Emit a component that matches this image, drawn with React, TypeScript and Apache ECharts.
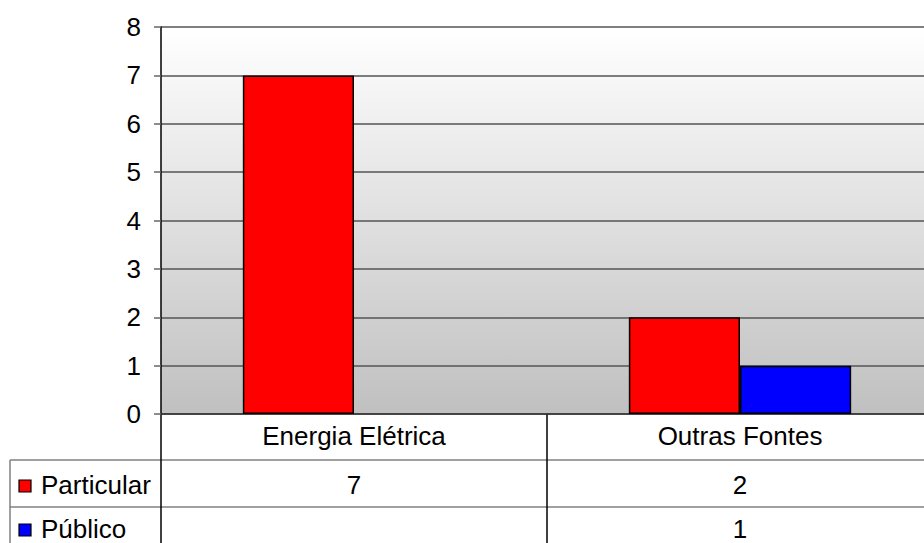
import React, { useEffect, useRef } from "react";
import * as echarts from "echarts";

const categories = ["Energia Elétrica", "Outras Fontes"];
const seriesNames = ["Particular", "Público"];
const seriesColors = ["#ff0000", "#0000ff"];
const particular: (number | null)[] = [7, 2];
const publico: (number | null)[] = [null, 1];
const yTicks = [0, 1, 2, 3, 4, 5, 6, 7, 8];

const FONT = "'Liberation Sans', Arial, sans-serif";
const FS = 26;

export default function App() {
  const ref = useRef<HTMLDivElement>(null);
  useEffect(() => {
    if (!ref.current) return;
    const chart = echarts.init(ref.current, null, { renderer: "svg" });
    const gridLeft = 161;
    const gridTop = 27;
    const gridBottom = 129;
    const W = 933;
    const H = 543;
    const axisY = H - gridBottom;
    chart.setOption({
      animation: false,
      textStyle: { fontFamily: FONT },
      grid: {
        left: gridLeft,
        right: 0,
        top: gridTop,
        bottom: gridBottom,
        show: true,
        borderWidth: 0,
        backgroundColor: new echarts.graphic.LinearGradient(0, 0, 0, 1, [
          { offset: 0, color: "#ffffff" },
          { offset: 1, color: "#c0c0c0" },
        ]),
      },
      xAxis: {
        type: "category",
        data: categories,
        axisLine: { show: true, lineStyle: { color: "#333333", width: 1.5 } },
        axisTick: { show: false },
        axisLabel: { color: "#000", fontSize: FS, fontFamily: FONT, margin: 9 },
        splitLine: { show: false },
      },
      yAxis: {
        type: "value",
        min: yTicks[0],
        max: yTicks[yTicks.length - 1],
        interval: 1,
        axisLine: { show: true, lineStyle: { color: "#000", width: 1.5 } },
        axisTick: { show: true, inside: false, length: 7, lineStyle: { color: "#666666", width: 1.5 } },
        axisLabel: { color: "#000", fontSize: FS, fontFamily: FONT, margin: 20 },
        splitLine: { show: true, lineStyle: { color: "#555555", width: 1.5 } },
      },
      series: [
        {
          name: seriesNames[0],
          type: "bar",
          data: particular,
          barWidth: "28.8%",
          barGap: "0%",
          itemStyle: { color: seriesColors[0], borderColor: "#000", borderWidth: 1.5 },
        },
        {
          name: seriesNames[1],
          type: "bar",
          data: publico,
          barWidth: "28.8%",
          barGap: "0%",
          itemStyle: { color: seriesColors[1], borderColor: "#000", borderWidth: 1.5 },
        },
      ],
    });

    const cx = categories.map((c) => chart.convertToPixel({ xAxisIndex: 0 }, c) as number);
    const divX = (cx[0] + cx[1]) / 2;
    const row1 = 460;
    const row2 = 507;
    const rowCenters = [485, 529];
    const elems: any[] = [];
    [row1, row2].forEach((y) =>
      elems.push({
        type: "line",
        shape: { x1: 10, y1: y, x2: W, y2: y },
        style: { stroke: "#808080", lineWidth: 1.5 },
      })
    );
    elems.push({ type: "line", shape: { x1: 10, y1: row1, x2: 10, y2: H }, style: { stroke: "#808080", lineWidth: 1.5 } });
    elems.push({ type: "line", shape: { x1: gridLeft, y1: axisY, x2: gridLeft, y2: H }, style: { stroke: "#000", lineWidth: 1.5 } });
    elems.push({ type: "line", shape: { x1: divX, y1: axisY, x2: divX, y2: H }, style: { stroke: "#000", lineWidth: 1.5 } });
    const rows = [particular, publico];
    rows.forEach((vals, r) => {
      const yc = rowCenters[r];
      elems.push({
        type: "rect",
        shape: { x: 19, y: yc - 5, width: 12, height: 12 },
        style: { fill: seriesColors[r], stroke: "#000", lineWidth: 1.2 },
      });
      elems.push({
        type: "text",
        x: 41,
        y: yc,
        style: { text: seriesNames[r], font: `${FS}px ${FONT}`, fill: "#000", textAlign: "left", textVerticalAlign: "middle" },
      });
      vals.forEach((v, i) => {
        if (v === null || v === undefined) return;
        elems.push({
          type: "text",
          x: cx[i],
          y: yc,
          style: { text: String(v), font: `${FS}px ${FONT}`, fill: "#000", textAlign: "center", textVerticalAlign: "middle" },
        });
      });
    });
    chart.setOption({ graphic: elems });
    return () => chart.dispose();
  }, []);
  return (
    <div
      ref={ref}
      style={{ position: "fixed", left: 0, top: 0, width: 933, height: 543, background: "#fff" }}
    />
  );
}
